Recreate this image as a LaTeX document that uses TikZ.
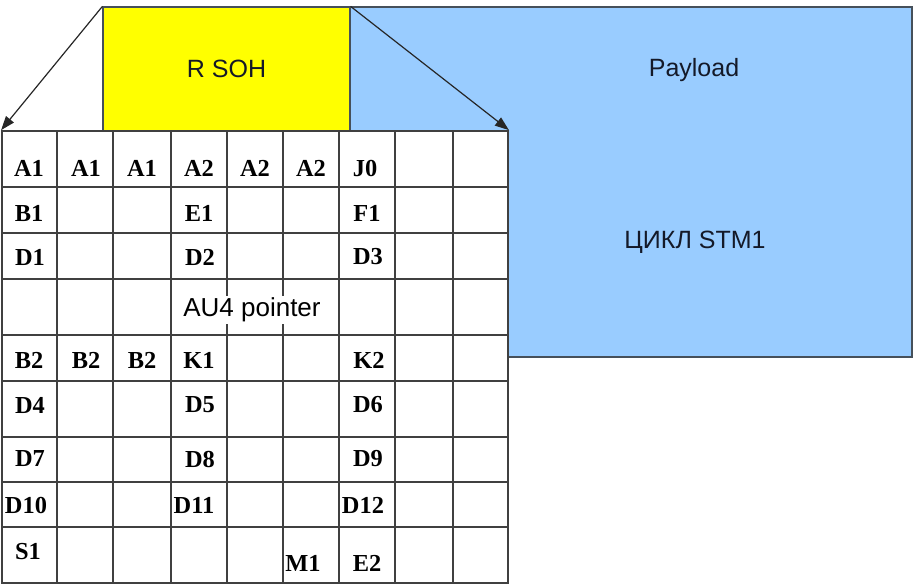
\documentclass[tikz,border=0pt]{standalone}
\usepackage{fontspec}
\setmainfont{Liberation Serif}
\newfontfamily\arialfont{Liberation Sans}
\usetikzlibrary{arrows.meta}
\definecolor{sohyellow}{RGB}{255,255,0}
\definecolor{payblue}{RGB}{153,204,255}
\definecolor{framegray}{RGB}{70,80,90}
\definecolor{labelink}{RGB}{20,25,40}
\tikzset{
  cell/.style={font=\fontsize{12.2}{14}\selectfont\bfseries, inner sep=0pt},
  block/.style={draw=framegray, line width=0.6pt, inner sep=0pt},
  title/.style={font=\arialfont\fontsize{12.5}{15}\selectfont, text=labelink, inner sep=0pt},
  gridline/.style={draw=black!75, line width=0.9pt},
  arrow/.style={-{Triangle[length=7pt,width=5pt]}, line width=0.6pt, draw=black!85},
}
\begin{document}
\begin{tikzpicture}[x=0.5pt, y=-0.5pt]
        \useasboundingbox (0,0) rectangle (914,584);

        % Blocks
        \node[block, fill=payblue, minimum width=281pt, minimum height=175pt] at (631,182) (payload) {};
        \node[block, title, fill=sohyellow, minimum width=123.5pt, minimum height=62pt] at (226.5,69) (rsoh) {R SOH};
        \node[title] at (694,70)  (paytext) {Payload};
        \node[title] at (695,242) (stmtext) {ЦИКЛ STM1};

        % Frame
        \node[gridline, fill=white, minimum width=253pt, minimum height=226pt, inner sep=0pt] at (255,357) (frame) {};

        \draw[gridline] (57,131)  -- (57,583);
        \draw[gridline] (113,131) -- (113,583);
        \draw[gridline] (171,131) -- (171,583);
        \draw[gridline] (227,131) -- (227,583);
        \draw[gridline] (283,131) -- (283,583);
        \draw[gridline] (339,131) -- (339,583);
        \draw[gridline] (395,131) -- (395,583);
        \draw[gridline] (453,131) -- (453,583);

        \draw[gridline] (2,187) -- (508,187);
        \draw[gridline] (2,233) -- (508,233);
        \draw[gridline] (2,279) -- (508,279);
        \draw[gridline] (2,335) -- (508,335);
        \draw[gridline] (2,381) -- (508,381);
        \draw[gridline] (2,437) -- (508,437);
        \draw[gridline] (2,482) -- (508,482);
        \draw[gridline] (2,527) -- (508,527);

        \draw[arrow] (rsoh.north west) -- (frame.north west);
        \draw[arrow] (rsoh.north east) -- (frame.north east);

        % Cells
        \node[cell] at (29,168)  (c11) {A1};
        \node[cell] at (86,168)  (c12) {A1};
        \node[cell] at (142,168) (c13) {A1};
        \node[cell] at (199,168) (c14) {A2};
        \node[cell] at (255,168) (c15) {A2};
        \node[cell] at (311,168) (c16) {A2};
        \node[cell] at (365,168) (c17) {J0};

        \node[cell] at (29,213)  (c21) {B1};
        \node[cell] at (199,213) (c24) {E1};
        \node[cell] at (367,213) (c27) {F1};

        \node[cell] at (30,257)  (c31) {D1};
        \node[cell] at (200,257) (c34) {D2};
        \node[cell] at (368,257) (c37) {D3};

        \node[title, text=black, fill=white, inner sep=1pt, font=\arialfont\fontsize{13}{15}\selectfont] at (252,310) (au4) {AU4 pointer};

        \node[cell] at (29,360)  (c51) {B2};
        \node[cell] at (86,360)  (c52) {B2};
        \node[cell] at (142,360) (c53) {B2};
        \node[cell] at (199,360) (c54) {K1};
        \node[cell] at (369,360) (c57) {K2};

        \node[cell] at (30,405)  (c61) {D4};
        \node[cell] at (200,405) (c64) {D5};
        \node[cell] at (368,405) (c67) {D6};

        \node[cell] at (30,459)  (c71) {D7};
        \node[cell] at (200,459) (c74) {D8};
        \node[cell] at (368,459) (c77) {D9};

        \node[cell] at (26,505)  (c81) {D10};
        \node[cell] at (194,505) (c84) {D11};
        \node[cell] at (363,505) (c87) {D12};

        \node[cell] at (28,552)  (c91) {S1};
        \node[cell] at (303,563) (c96) {M1};
        \node[cell] at (367,563) (c97) {E2};
    \end{tikzpicture}
\end{document}
